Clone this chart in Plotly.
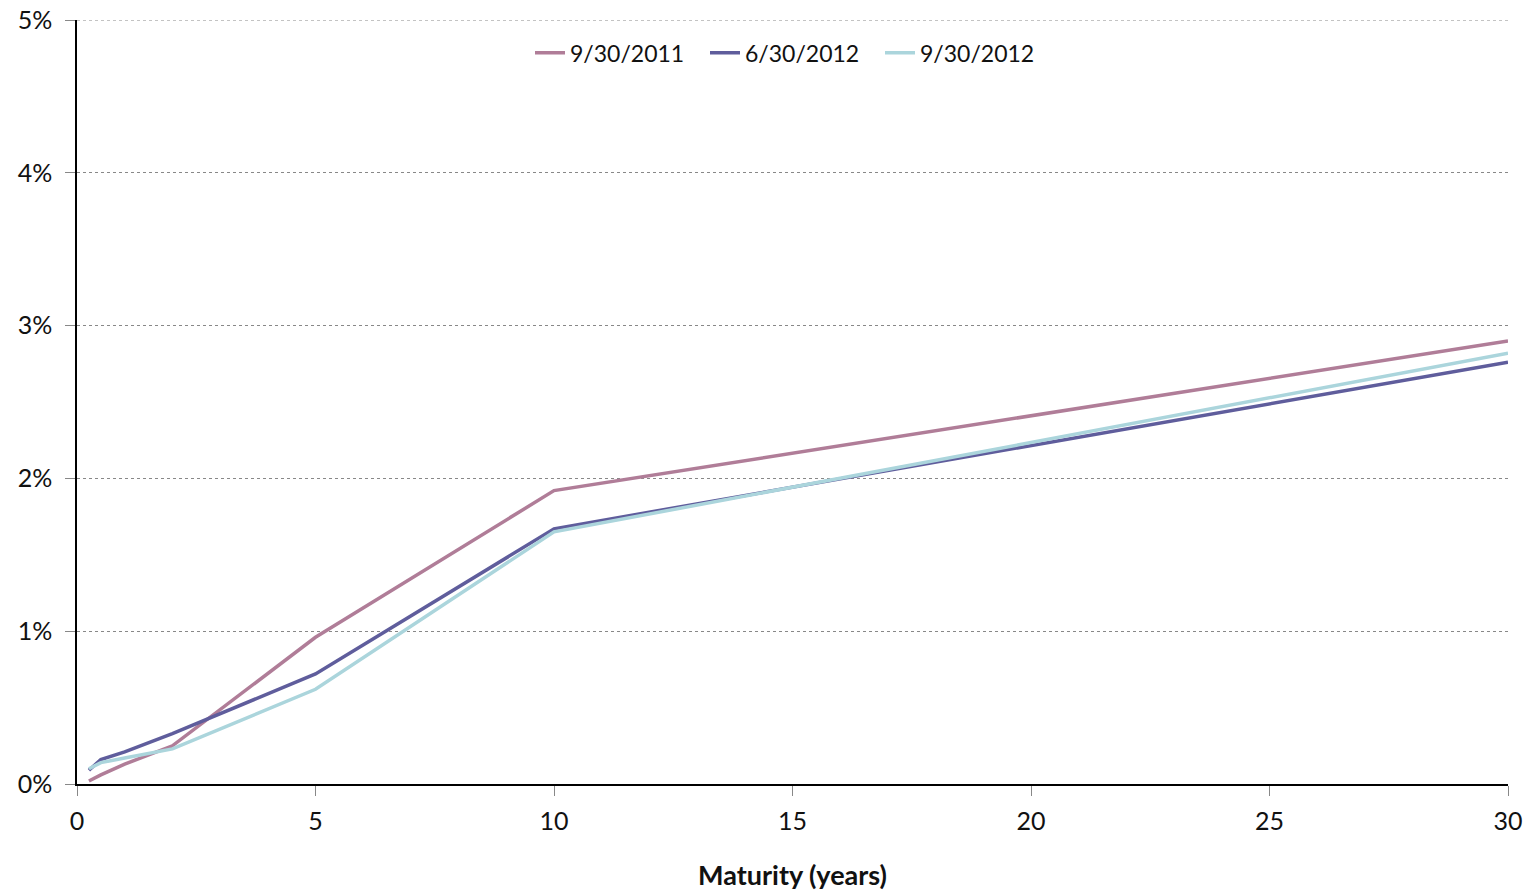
import plotly.graph_objects as go

maturity = [0.25, 0.5, 1, 2, 5, 10, 30]
y_2011_09 = [0.02, 0.06, 0.13, 0.25, 0.96, 1.92, 2.90]
y_2012_06 = [0.09, 0.16, 0.21, 0.33, 0.72, 1.67, 2.76]
y_2012_09 = [0.10, 0.14, 0.17, 0.23, 0.62, 1.65, 2.82]
names = ["9/30/2011", "6/30/2012", "9/30/2012"]
colors = ["#B07D98", "#5F5D9C", "#ABD5DC"]
x_ticks = [0, 5, 10, 15, 20, 25, 30]
y_ticks = [0, 1, 2, 3, 4, 5]
y_ticktext = [f"{v}%" for v in y_ticks]

FONT = "Lato"
fig = go.Figure()
for name, ys, c in zip(names, [y_2011_09, y_2012_06, y_2012_09], colors):
    fig.add_trace(go.Scatter(x=maturity, y=ys, mode="lines", name=name,
                             line=dict(color=c, width=3.5)))

fig.update_layout(
    width=1527, height=888,
    margin=dict(l=69, r=27, t=12, b=112, autoexpand=False),
    paper_bgcolor="white", plot_bgcolor="white",
    font=dict(family=FONT, size=25, color="#111"),
    legend=dict(orientation="h", x=0.5, xanchor="center", y=0.957, yanchor="middle",
                font=dict(size=23), entrywidth=130, entrywidthmode="pixels",
                bgcolor="rgba(0,0,0,0)"),
    showlegend=True,
)
fig.update_xaxes(range=[0, 30], tickvals=x_ticks, automargin=False,
                 showline=True, linecolor="black", linewidth=1.5,
                 ticks="outside", ticklen=10, tickcolor="#888", showgrid=False,
                 zeroline=False, ticklabelstandoff=4,
                 title=dict(text="<b>Maturity (years)</b>", standoff=32,
                            font=dict(size=27)))
fig.update_yaxes(range=[0, 5], tickvals=y_ticks, ticktext=y_ticktext, automargin=False,
                 showline=True, linecolor="black", linewidth=1.5,
                 ticks="outside", ticklen=10, tickcolor="#888",
                 showgrid=True, gridcolor="#888", griddash="dot", gridwidth=1,
                 zeroline=False, ticklabelstandoff=8, ticklabeloverflow="allow")
# top gridline at the upper end of the y range (Plotly omits grid at range edge)
fig.add_hline(y=y_ticks[-1], line=dict(color="#888", width=1, dash="dot"), layer="below")

fig.write_html("out.html")
